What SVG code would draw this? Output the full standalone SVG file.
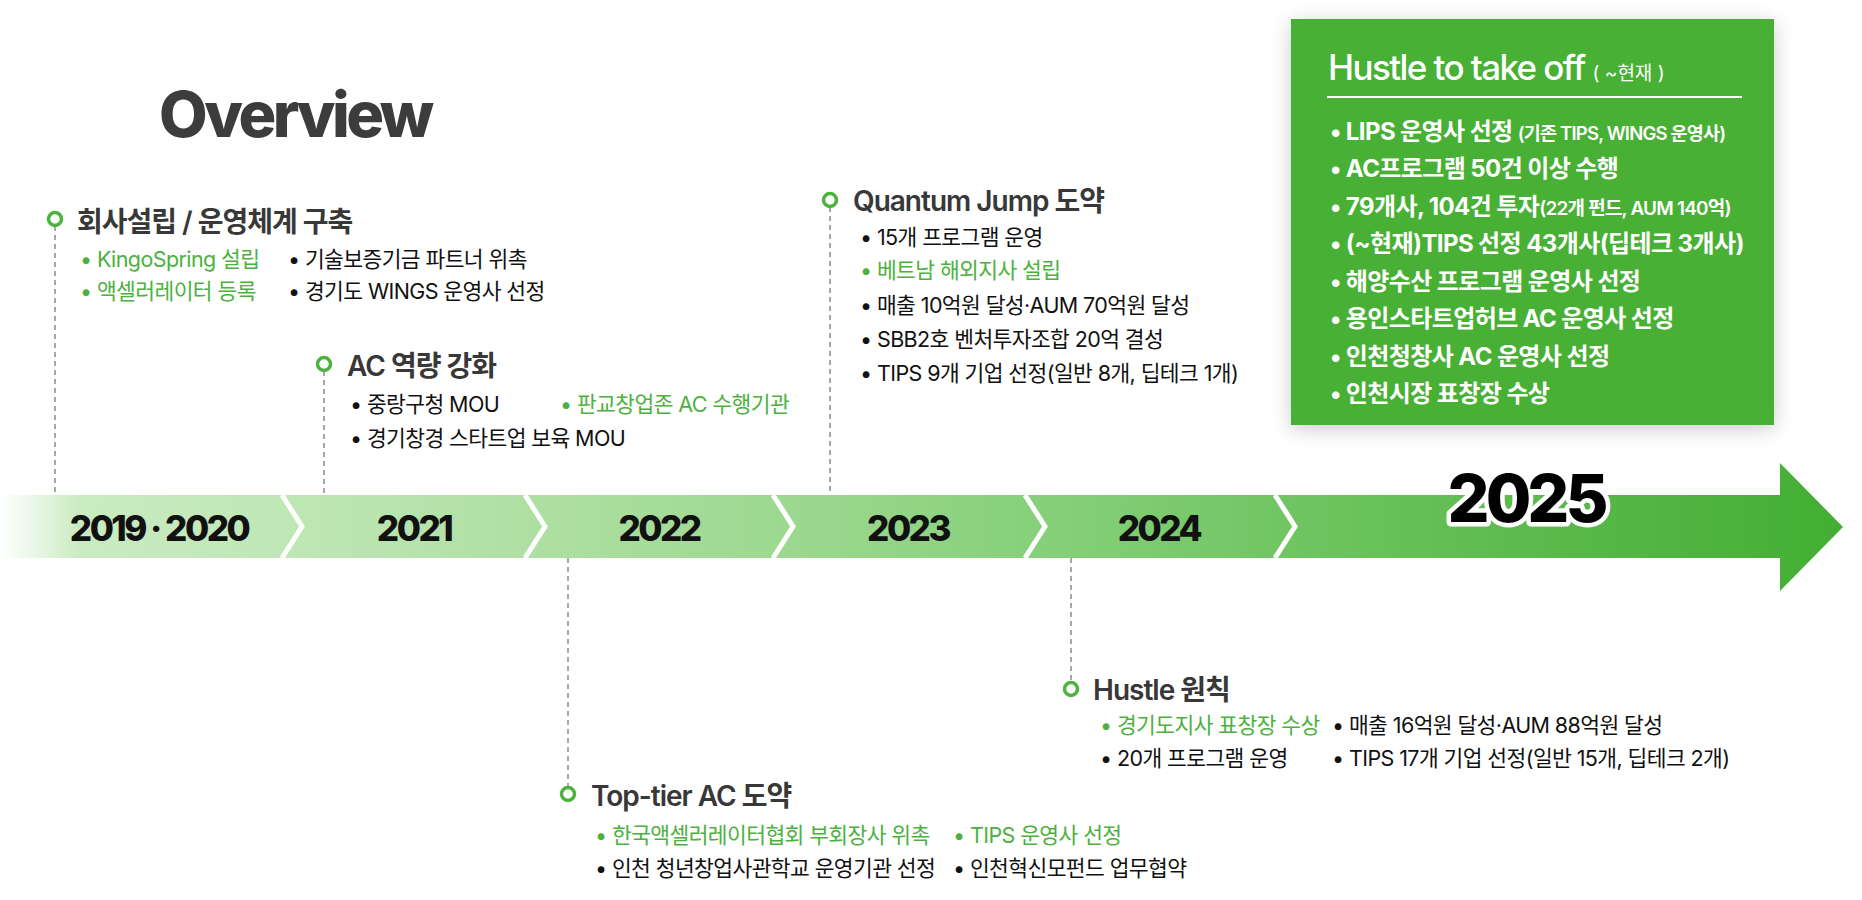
<svg xmlns="http://www.w3.org/2000/svg" width="1862" height="900" viewBox="0 0 1862 900">
<defs>
<style>
text{font-family:Inter,"Noto Sans CJK KR","Noto Sans",sans-serif;}
.title{font-size:63px;font-weight:800;fill:#3c3c3c;letter-spacing:-3.5px;}
.hd{font-size:28px;font-weight:600;fill:#383838;letter-spacing:-1px;}
.b{font-size:21.5px;font-weight:400;fill:#111;letter-spacing:-0.6px;}
.g{fill:#4cb13e;}
.yr{font-size:35px;font-weight:800;fill:#111;text-anchor:middle;letter-spacing:-2.5px;}
.y25{font-size:66px;font-weight:800;fill:#000;text-anchor:middle;stroke:#fff;stroke-width:9px;stroke-linejoin:round;paint-order:stroke;letter-spacing:-4px;}
.bt{font-size:35px;font-weight:500;fill:#fff;letter-spacing:-1.6px;}
.bx{font-size:24px;font-weight:700;fill:#fff;letter-spacing:-0.6px;}
.dot{fill:#fff;stroke:#4cb43c;stroke-width:3.5;}
.dash{stroke:#8a8a8a;stroke-width:1.5;stroke-dasharray:5 4;fill:none;}
.sep{stroke:#fff;stroke-width:5;fill:none;}
</style>
<linearGradient id="band" x1="0" y1="0" x2="1843" y2="0" gradientUnits="userSpaceOnUse">
<stop offset="0" stop-color="#cdedc5"/>
<stop offset="0.15" stop-color="#c0e7b6"/>
<stop offset="0.3" stop-color="#addfa1"/>
<stop offset="0.45" stop-color="#99d78c"/>
<stop offset="0.58" stop-color="#84cf77"/>
<stop offset="0.7" stop-color="#70c562"/>
<stop offset="0.85" stop-color="#58b949"/>
<stop offset="1" stop-color="#43ae33"/>
</linearGradient>
<linearGradient id="fade" x1="0" y1="0" x2="1" y2="0">
<stop offset="0" stop-color="#fff" stop-opacity="1"/>
<stop offset="1" stop-color="#fff" stop-opacity="0"/>
</linearGradient>
<filter id="sh" x="-20%" y="-20%" width="140%" height="140%">
<feDropShadow dx="0" dy="4" stdDeviation="10" flood-color="#000" flood-opacity="0.2"/>
</filter>
</defs>
<rect width="1862" height="900" fill="#fff"/>

<text class="title" x="159" y="137">Overview</text>

<g id="timeline">
<rect x="0" y="495" width="1782" height="63" fill="url(#band)"/>
<polygon points="1780,463 1843,527 1780,591" fill="url(#band)"/>
<rect x="0" y="495" width="80" height="63" fill="url(#fade)"/>
<polyline class="sep" points="282,495 302,526.5 282,558"/>
<polyline class="sep" points="525,495 545,526.5 525,558"/>
<polyline class="sep" points="773,495 793,526.5 773,558"/>
<polyline class="sep" points="1025,495 1045,526.5 1025,558"/>
<polyline class="sep" points="1275,495 1295,526.5 1275,558"/>
<text class="yr" x="159" y="541">2019 · 2020</text>
<text class="yr" x="414" y="541">2021</text>
<text class="yr" x="659" y="541">2022</text>
<text class="yr" x="908" y="541">2023</text>
<text class="yr" x="1159" y="541">2024</text>
<text class="y25" x="1526" y="522">2025</text>
</g>

<g id="connectors">
<line class="dash" x1="55" y1="226" x2="55" y2="495"/>
<line class="dash" x1="324" y1="371" x2="324" y2="495"/>
<line class="dash" x1="830" y1="207" x2="830" y2="495"/>
<line class="dash" x1="568" y1="558" x2="568" y2="787"/>
<line class="dash" x1="1071" y1="558" x2="1071" y2="682"/>
</g>

<g id="event-2019">
<circle class="dot" cx="55" cy="219" r="6.5"/>
<text class="hd" x="77" y="232">회사설립 / 운영체계 구축</text>
<text class="b g" x="80" y="267">• KingoSpring 설립</text>
<text class="b" x="288" y="267">• 기술보증기금 파트너 위촉</text>
<text class="b g" x="80" y="299">• 액셀러레이터 등록</text>
<text class="b" x="288" y="299">• 경기도 WINGS 운영사 선정</text>
</g>

<g id="event-2021">
<circle class="dot" cx="324" cy="364" r="6.5"/>
<text class="hd" x="347" y="376">AC 역량 강화</text>
<text class="b" x="350" y="412">• 중랑구청 MOU</text>
<text class="b g" x="560" y="412">• 판교창업존 AC 수행기관</text>
<text class="b" x="350" y="446">• 경기창경 스타트업 보육 MOU</text>
</g>

<g id="event-2023">
<circle class="dot" cx="830" cy="200" r="6.5"/>
<text class="hd" x="853" y="211">Quantum Jump 도약</text>
<text class="b" x="860" y="245">• 15개 프로그램 운영</text>
<text class="b g" x="860" y="278">• 베트남 해외지사 설립</text>
<text class="b" x="860" y="313">• 매출 10억원 달성·AUM 70억원 달성</text>
<text class="b" x="860" y="347">• SBB2호 벤처투자조합 20억 결성</text>
<text class="b" x="860" y="381">• TIPS 9개 기업 선정(일반 8개, 딥테크 1개)</text>
</g>

<g id="event-2022">
<circle class="dot" cx="568" cy="794" r="6.5"/>
<text class="hd" x="591" y="806">Top-tier AC 도약</text>
<text class="b g" x="595" y="843">• 한국액셀러레이터협회 부회장사 위촉</text>
<text class="b g" x="953" y="843">• TIPS 운영사 선정</text>
<text class="b" x="595" y="876">• 인천 청년창업사관학교 운영기관 선정</text>
<text class="b" x="953" y="876">• 인천혁신모펀드 업무협약</text>
</g>

<g id="event-2024">
<circle class="dot" cx="1071" cy="689" r="6.5"/>
<text class="hd" x="1093" y="700">Hustle 원칙</text>
<text class="b g" x="1100" y="733">• 경기도지사 표창장 수상</text>
<text class="b" x="1332" y="733">• 매출 16억원 달성·AUM 88억원 달성</text>
<text class="b" x="1100" y="766">• 20개 프로그램 운영</text>
<text class="b" x="1332" y="766">• TIPS 17개 기업 선정(일반 15개, 딥테크 2개)</text>
</g>

<g id="box-2025">
<rect x="1291" y="19" width="483" height="406" fill="#46b034" filter="url(#sh)"/>
<text class="bt" x="1328" y="80">Hustle to take off <tspan font-size="19" font-weight="400" letter-spacing="0">( ~현재 )</tspan></text>
<line x1="1327" y1="97" x2="1742" y2="97" stroke="#fff" stroke-width="2"/>
<text class="bx" x="1330" y="140">• LIPS 운영사 선정 <tspan font-size="18.5" font-weight="600" letter-spacing="-0.8">(기존 TIPS, WINGS 운영사)</tspan></text>
<text class="bx" x="1330" y="177">• AC프로그램 50건 이상 수행</text>
<text class="bx" x="1330" y="215">• 79개사, 104건 투자<tspan font-size="19" font-weight="600" letter-spacing="-0.8">(22개 펀드, AUM 140억)</tspan></text>
<text class="bx" x="1330" y="252">• (~현재)TIPS 선정 43개사(딥테크 3개사)</text>
<text class="bx" x="1330" y="290">• 해양수산 프로그램 운영사 선정</text>
<text class="bx" x="1330" y="327">• 용인스타트업허브 AC 운영사 선정</text>
<text class="bx" x="1330" y="365">• 인천청창사 AC 운영사 선정</text>
<text class="bx" x="1330" y="402">• 인천시장 표창장 수상</text>
</g>
</svg>
